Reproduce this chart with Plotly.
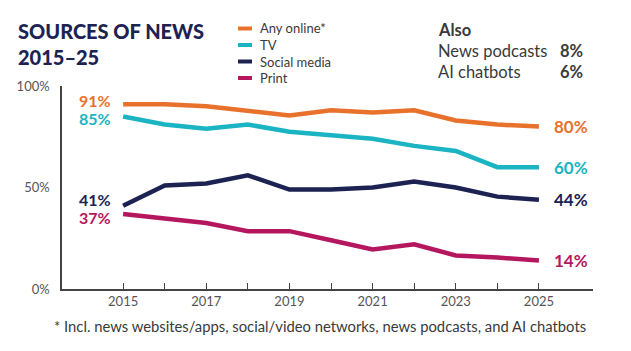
import plotly.graph_objects as go

years = list(range(2015, 2026))
any_online = [91, 91, 90, 87.5, 85.5, 88, 87, 88, 83, 81, 80]
tv = [85, 81, 79, 81, 77.5, 76, 74, 70.5, 68, 60, 60]
social = [41, 51, 52, 56, 49, 49, 50, 53, 50, 45.5, 44]
printed = [37, 34.5, 32.5, 28.5, 28.5, 24, 19.5, 22, 16.5, 15.5, 14]

series_names = ["Any online*", "TV", "Social media", "Print"]
series_values = [any_online, tv, social, printed]
colors = ["#E8722C", "#1AB4C2", "#1C2352", "#B5175E"]
start_labels = ["91%", "85%", "41%", "37%"]
end_labels = ["80%", "60%", "44%", "14%"]
start_yshift = [4, -2, 6, -4]
end_yshift = [0, 0, 0, 0]

tick_years = [2015, 2017, 2019, 2021, 2023, 2025]
y_ticks = [0, 50, 100]
y_tick_text = ["0%", "50%", "100%"]

title_text = "SOURCES OF NEWS<br>2015\u201325"
also_title = "Also"
also_items = ["News podcasts", "AI chatbots"]
also_values = ["8%", "6%"]
footnote = "* Incl. news websites/apps, social/video networks, news podcasts, and AI chatbots"

W, H = 631, 351
L, R, T, B = 62, 38, 86, 62
PW, PH = W - L - R, H - T - B


def px(xp):
    return (xp - L) / PW


def py(yp):
    return (H - B - yp) / PH


NAVY = "#1C2352"
GREY = "#555555"
TEXT = "#3a3a3a"

fig = go.Figure()
for name, vals, c in zip(series_names, series_values, colors):
    fig.add_trace(go.Scatter(x=years, y=vals, mode="lines", name=name,
                             line=dict(color=c, width=4.5, shape="linear"),
                             showlegend=False, hoverinfo="skip"))

annotations = []
for vals, c, sl, el, sy, ey in zip(series_values, colors, start_labels, end_labels,
                                   start_yshift, end_yshift):
    annotations.append(dict(x=years[0], y=vals[0], text=f"<b>{sl}</b>", showarrow=False,
                            xanchor="right", yanchor="middle", xshift=-10, yshift=sy,
                            font=dict(family="Lato", size=16, color=c)))
    annotations.append(dict(x=years[-1], y=vals[-1], text=f"<b>{el}</b>", showarrow=False,
                            xanchor="left", yanchor="middle", xshift=13, yshift=ey,
                            font=dict(family="Lato", size=17, color=c)))

# title
annotations.append(dict(xref="paper", yref="paper", x=px(16), y=py(17), text=title_text,
                        showarrow=False, xanchor="left", yanchor="top", align="left",
                        font=dict(family="Lato", size=20, color=NAVY, weight=900)))

# manual legend
shapes = []
leg_y = [28.5, 45, 61.5, 78]
for name, c, yy in zip(series_names, colors, leg_y):
    shapes.append(dict(type="line", xref="paper", yref="paper", x0=px(238), x1=px(252),
                       y0=py(yy), y1=py(yy), line=dict(color=c, width=4)))
    annotations.append(dict(xref="paper", yref="paper", x=px(258), y=py(yy), text=name,
                            showarrow=False, xanchor="left", yanchor="middle",
                            font=dict(family="Lato", size=13, color=TEXT)))

# Also block
annotations.append(dict(xref="paper", yref="paper", x=px(436), y=py(30), text=f"<b>{also_title}</b>",
                        showarrow=False, xanchor="left", yanchor="middle",
                        font=dict(family="Lato", size=16.5, color=TEXT)))
for i, (it, v) in enumerate(zip(also_items, also_values)):
    yy = 51 + i * 21
    annotations.append(dict(xref="paper", yref="paper", x=px(436), y=py(yy), text=it,
                            showarrow=False, xanchor="left", yanchor="middle",
                            font=dict(family="Lato", size=16.5, color=TEXT)))
    annotations.append(dict(xref="paper", yref="paper", x=px(585), y=py(yy), text=f"<b>{v}</b>",
                            showarrow=False, xanchor="right", yanchor="middle",
                            font=dict(family="Lato", size=16.5, color=TEXT)))

# footnote
annotations.append(dict(xref="paper", yref="paper", x=px(320), y=py(326), text=footnote,
                        showarrow=False, xanchor="center", yanchor="middle",
                        font=dict(family="Lato", size=14.8, color=TEXT)))

fig.update_layout(
    width=W, height=H,
    margin=dict(l=L, r=R, t=T, b=B, pad=0),
    paper_bgcolor="white", plot_bgcolor="white",
    annotations=annotations, shapes=shapes,
    showlegend=False,
)
fig.update_xaxes(range=[2013.53, 2026.3], showgrid=False, zeroline=False,
                 showline=True, linecolor="#444", linewidth=1.5,
                 tickmode="array", tickvals=years,
                 ticktext=[str(y) if y in tick_years else "" for y in years],
                 ticks="inside", ticklen=6, tickcolor="#444", tickwidth=1,
                 tickfont=dict(family="Lato", size=13, color=GREY))
fig.update_yaxes(range=[0, 100], showgrid=False, zeroline=False,
                 showline=True, linecolor="#444", linewidth=1.5,
                 tickmode="array", tickvals=y_ticks, ticktext=y_tick_text,
                 ticks="", ticklabelstandoff=8,
                 tickfont=dict(family="Lato", size=13, color=GREY))

fig.write_html("out.html")
